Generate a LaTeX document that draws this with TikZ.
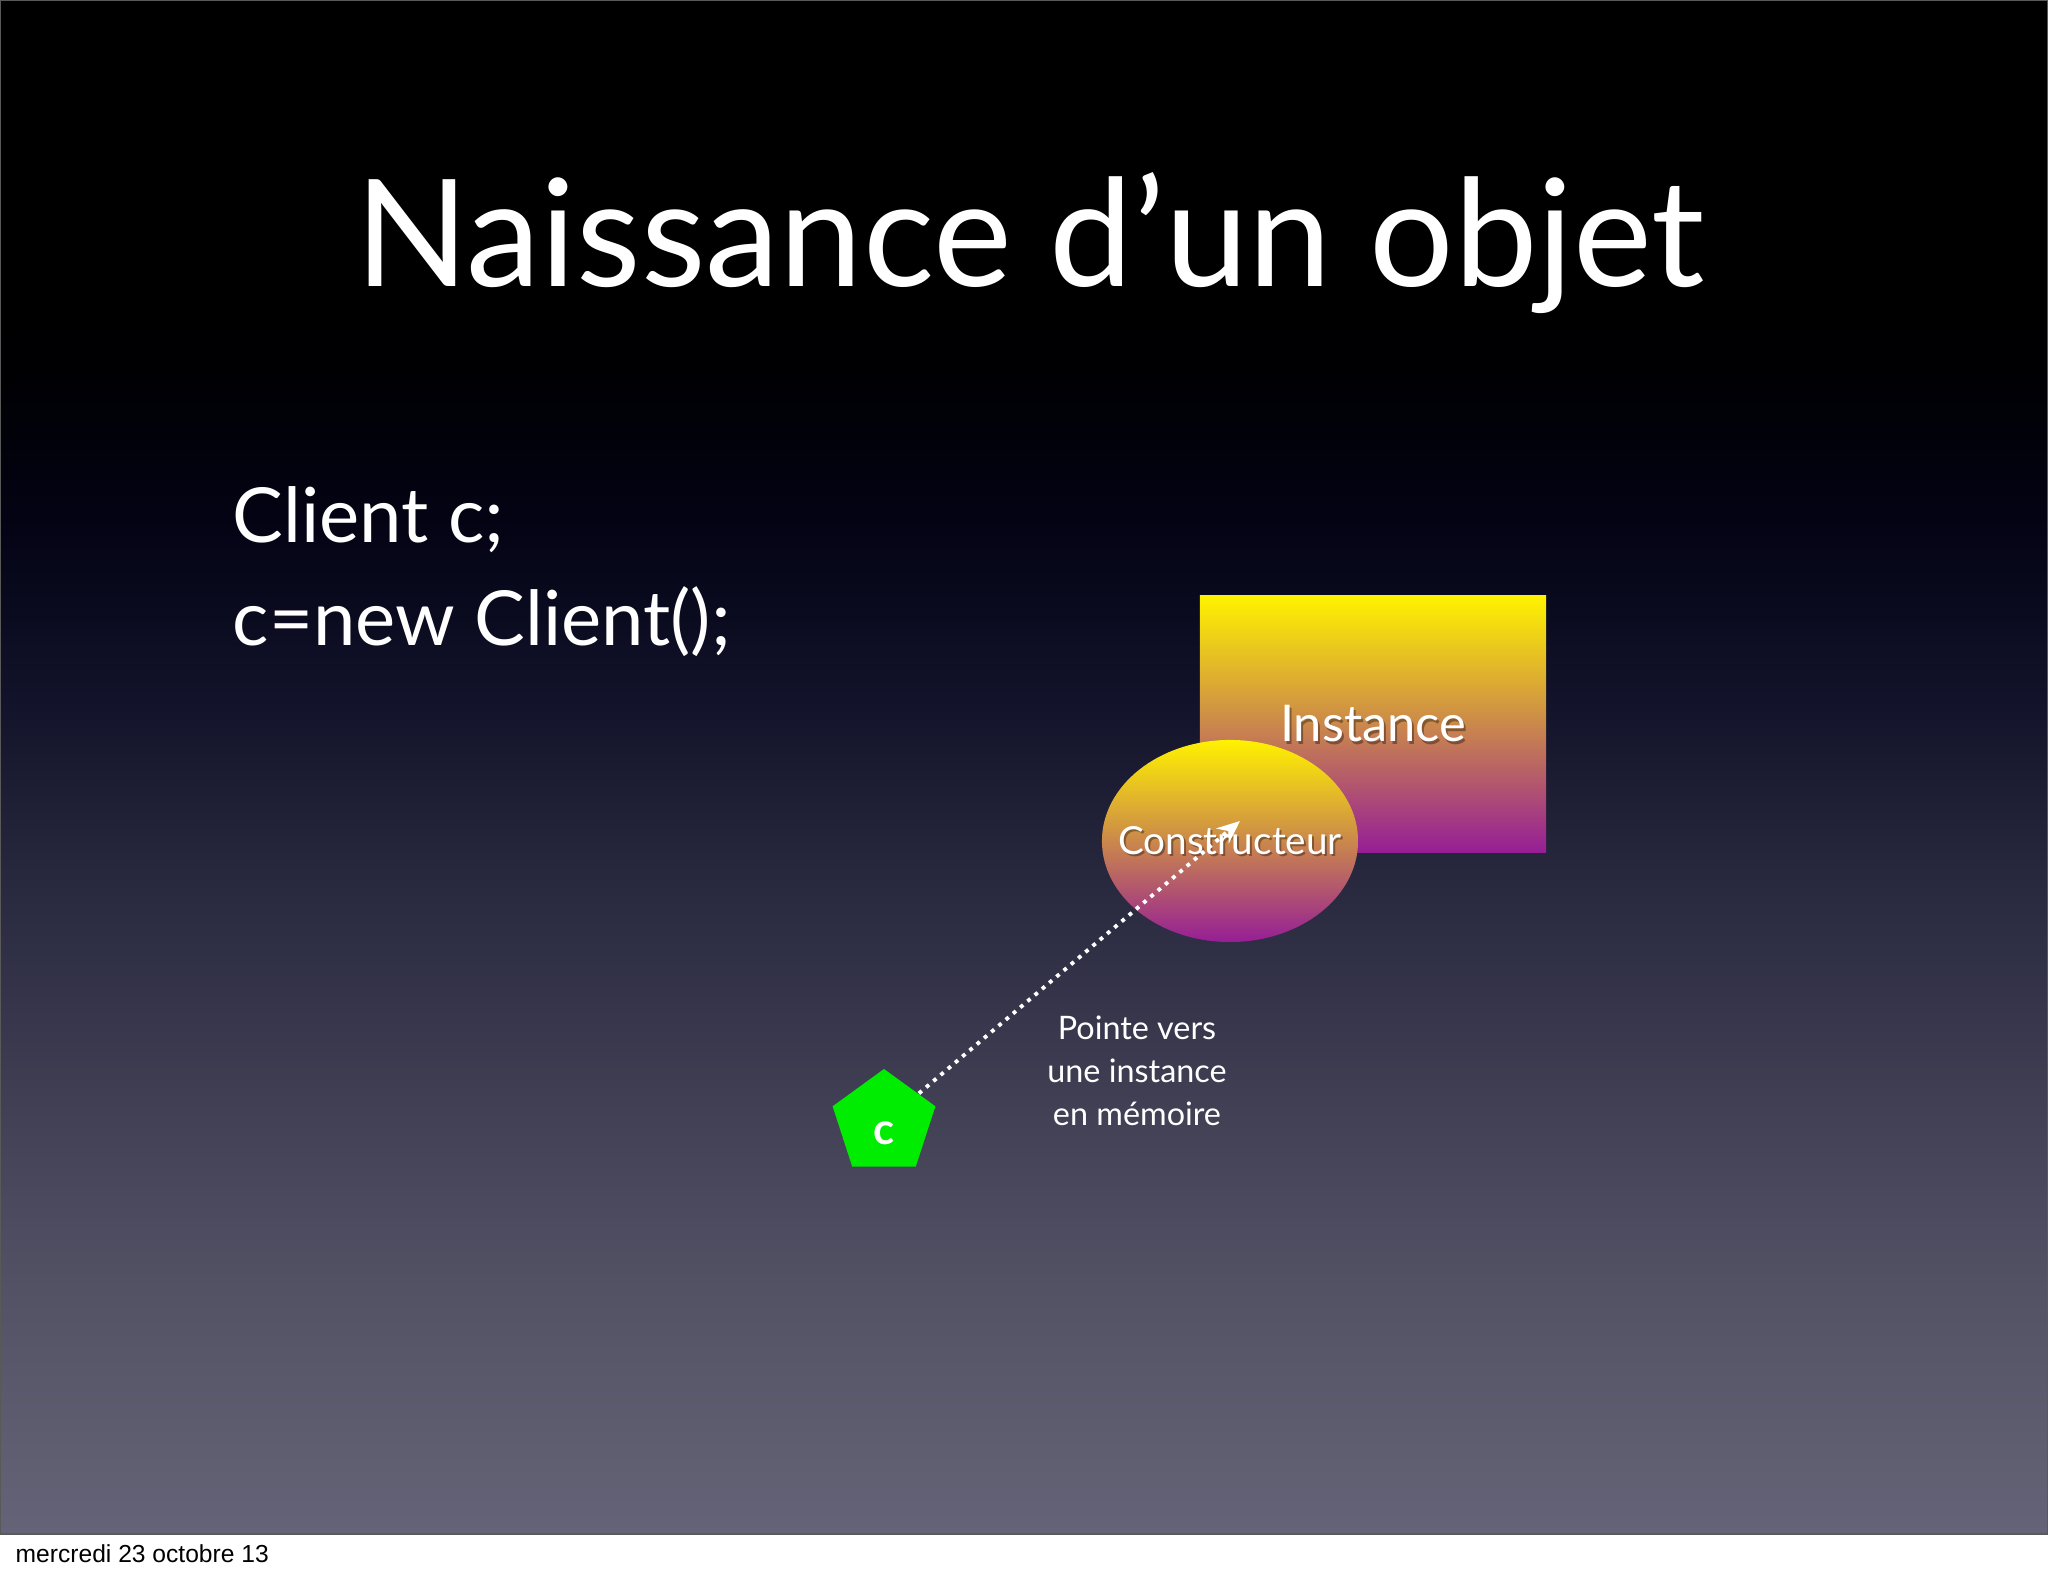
\documentclass[tikz,border=0pt]{standalone}
\usepackage{fontspec}
\setmainfont{Lato}
\newfontfamily\footfont{Liberation Sans}
\usetikzlibrary{shapes.geometric,arrows.meta}

\definecolor{bgA}{RGB}{101,99,119}
\definecolor{bgB}{RGB}{84,83,102}
\definecolor{bgC}{RGB}{64,63,84}
\definecolor{bgD}{RGB}{42,42,64}
\definecolor{bgE}{RGB}{18,18,42}
\definecolor{bgF}{RGB}{3,3,20}
\definecolor{bgG}{RGB}{0,0,4}
\definecolor{gold}{RGB}{255,242,0}
\definecolor{amber}{RGB}{210,145,80}
\definecolor{plum}{RGB}{150,30,150}
\definecolor{refgreen}{RGB}{0,236,0}

\pgfdeclareverticalshading{slidebg}{100bp}{color(0bp)=(bgA); color(25bp)=(bgA);
  color(32.6bp)=(bgB); color(39.1bp)=(bgC); color(45.7bp)=(bgD);
  color(52.2bp)=(bgE); color(58.1bp)=(bgF); color(62.6bp)=(bgG);
  color(65.2bp)=(black); color(100bp)=(black)}

\begin{document}
\begin{tikzpicture}[
    x=0.01cm, y=-0.01cm,
    slidetxt/.style={text=white, inner sep=0pt},
    title/.style={slidetxt, anchor=base, font=\fontsize{42.4}{50}\selectfont},
    code/.style={slidetxt, anchor=base west, font=\fontsize{21.6}{26}\selectfont},
    instbox/.style={rectangle, minimum width=3.46cm, minimum height=2.56cm,
      top color=gold, middle color=amber, bottom color=plum},
    ctorshape/.style={ellipse, minimum width=2.56cm, minimum height=2.02cm, inner sep=0pt,
      top color=gold, middle color=amber, bottom color=plum},
    txtshadow/.style={text=black, text opacity=0.35, inner sep=0pt},
    refshape/.style={regular polygon, regular polygon sides=5, fill=refgreen,
      minimum size=1.08cm, inner sep=0pt},
    pointer/.style={white, line width=1.1pt, dash pattern=on 1.1pt off 1.6pt,
      -{Stealth[length=6.5pt, width=5.5pt]}}
  ]
  % background and slide
  \useasboundingbox (0,0) rectangle (2048,1576);
  \fill[white] (0,0) rectangle (2048,1576);
  \shade[shading=slidebg] (0,0) rectangle (2048,1534);
  \draw[black!65, line width=0.6pt] (0,0) rectangle (2048,1534);

  \node[title] (title) at (1030,287) {Naissance d’un objet};
  \node[code] (decl) at (232,542) {Client c;};
  \node[code] (alloc) at (232,645) {c=new Client();};

  % the object in memory
  \node[instbox] (inst) at (1373,724) {};
  \node[txtshadow, font=\fontsize{14.4}{18}\selectfont] at (1375,727) {Instance};
  \node[slidetxt, font=\fontsize{14.4}{18}\selectfont] (insttxt) at (inst) {Instance};

  \node[ctorshape] (ctor) at (1230,841) {};
  \node[txtshadow, font=\fontsize{11}{13}\selectfont] at (1232,843) {Constructeur};
  \node[slidetxt, font=\fontsize{11}{13}\selectfont] (ctortxt) at (ctor) {Constructeur};

  % the reference
  \node[refshape] (ref) at (884,1123) {};
  \node[slidetxt, font=\bfseries\fontsize{12.4}{14}\selectfont] (refname) at (884,1133) {c};
  \coordinate (tip) at (1240,821);
  \draw[pointer] (ref) -- (tip);

  \node[slidetxt, align=center, font=\fontsize{9.2}{12.2}\selectfont] (note) at (1137,1071)
    {Pointe vers\\une instance\\en mémoire};

  \node[anchor=base west, inner sep=0pt, font=\footfont\fontsize{7}{8}\selectfont] (date)
    at (15,1562) {mercredi 23 octobre 13};
\end{tikzpicture}
\end{document}
